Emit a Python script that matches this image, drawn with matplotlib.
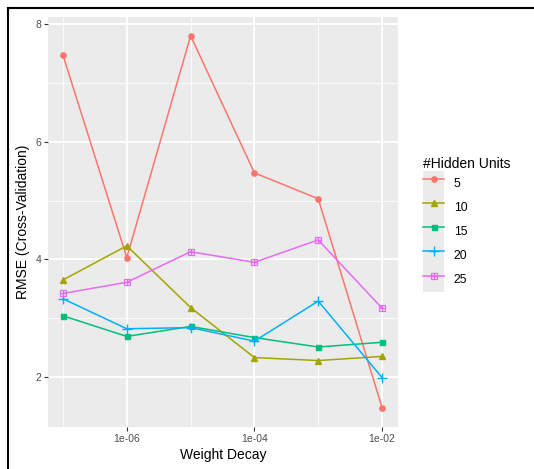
import matplotlib.pyplot as plt
from matplotlib.lines import Line2D
from matplotlib.patches import Patch
from matplotlib.legend_handler import HandlerBase

plt.rcParams['font.family'] = ['Liberation Sans', 'DejaVu Sans']

# data
decay = [1e-7, 1e-6, 1e-5, 1e-4, 1e-3, 1e-2]
units = ['5', '10', '15', '20', '25']
rmse_5 = [7.47, 4.03, 7.80, 5.47, 5.03, 1.48]
rmse_10 = [3.65, 4.23, 3.18, 2.33, 2.28, 2.35]
rmse_15 = [3.04, 2.69, 2.86, 2.67, 2.51, 2.59]
rmse_20 = [3.33, 2.82, 2.84, 2.61, 3.29, 1.99]
rmse_25 = [3.42, 3.61, 4.13, 3.95, 4.33, 3.17]
x_ticks = [1e-6, 1e-4, 1e-2]
x_labels = ['1e-06', '1e-04', '1e-02']

series = [rmse_5, rmse_10, rmse_15, rmse_20, rmse_25]
colors = ['#F8766D', '#A3A500', '#00BF7D', '#00B0F6', '#E76BF3']


class HandlerOverlay(HandlerBase):
    # draws all parts of a tuple handle on top of each other (key background + line)
    def create_artists(self, legend, orig_handle, xdescent, ydescent,
                       width, height, fontsize, trans):
        artists = []
        hmap = legend.get_legend_handler_map()
        for h in orig_handle:
            handler = legend.get_legend_handler(hmap, h)
            artists.extend(handler.create_artists(legend, h, xdescent, ydescent,
                                                  width, height, fontsize, trans))
        return artists


fig = plt.figure(figsize=(5.34, 4.69), dpi=100)
ax = fig.add_axes([48/534, 1-427/469, 350/534, 410/469])
ax.set_facecolor('#EBEBEB')

handles = []
for vals, c, u in zip(series, colors, units):
    bg = Patch(facecolor='#EBEBEB', edgecolor='none')
    if u == '5':
        ax.plot(decay, vals, color=c, lw=1.1, marker='o', ms=3.8)
        h = (bg, Line2D([], [], color=c, lw=1.1, marker='o', ms=3.8))
    elif u == '10':
        ax.plot(decay, vals, color=c, lw=1.1, marker='^', ms=4.5)
        h = (bg, Line2D([], [], color=c, lw=1.1, marker='^', ms=4.5))
    elif u == '15':
        ax.plot(decay, vals, color=c, lw=1.1, marker='s', ms=3.6)
        h = (bg, Line2D([], [], color=c, lw=1.1, marker='s', ms=3.6))
    elif u == '20':
        ax.plot(decay, vals, color=c, lw=1.1, marker='+', ms=6.5, mew=1.0)
        h = (bg, Line2D([], [], color=c, lw=1.1, marker='+', ms=6.5, mew=1.0))
    else:
        ax.plot(decay, vals, color=c, lw=1.1, marker='s', ms=4.8, mfc='none', mew=0.9)
        ax.plot(decay, vals, color=c, lw=0, marker='+', ms=4.8, mew=0.9)
        h = (bg, Line2D([], [], color=c, lw=1.1, marker='s', ms=4.8, mfc='none', mew=0.9),
             Line2D([], [], color=c, lw=0, marker='+', ms=4.8, mew=0.9))
    handles.append(h)

ax.set_xscale('log')
ax.set_xlim(10**-7.235, 10**-1.75)
ax.set_ylim(1.15, 8.12)
ax.set_xticks(x_ticks)
ax.set_xticklabels(x_labels)
ax.set_xticks([1e-7, 1e-5, 1e-3], minor=True)
ax.set_xticklabels([], minor=True)
ax.set_yticks([2, 4, 6, 8])
ax.set_yticks([3, 5, 7], minor=True)
ax.grid(which='major', color='white', lw=1.3)
ax.grid(which='minor', color='white', lw=0.6)
ax.set_axisbelow(True)
for s in ax.spines.values():
    s.set_visible(False)
ax.tick_params(which='major', length=3, width=0.8, color='#333333',
               labelcolor='#4D4D4D', labelsize=7.5, pad=2)
ax.tick_params(which='minor', length=0)

ax.set_xlabel('Weight Decay', fontsize=10, labelpad=3)
ax.set_ylabel('RMSE (Cross-Validation)', fontsize=10, labelpad=4)

leg = fig.legend(handles, units, handler_map={tuple: HandlerOverlay()},
                 loc='upper left', bbox_to_anchor=(417/534, 1-151/469),
                 frameon=False, title='#Hidden Units', fontsize=8.7,
                 title_fontsize=10, handlelength=1.75, handleheight=2.7,
                 labelspacing=0.0, handletextpad=0.8, borderpad=0,
                 alignment='left')

# black frame of the screenshot
fig.add_artist(Line2D([8/534, 8/534], [0, 1-8/469], color='black', lw=1.5))
fig.add_artist(Line2D([8/534, 1], [1-8/469, 1-8/469], color='black', lw=1.5))

fig.savefig('out.png', dpi=100)
